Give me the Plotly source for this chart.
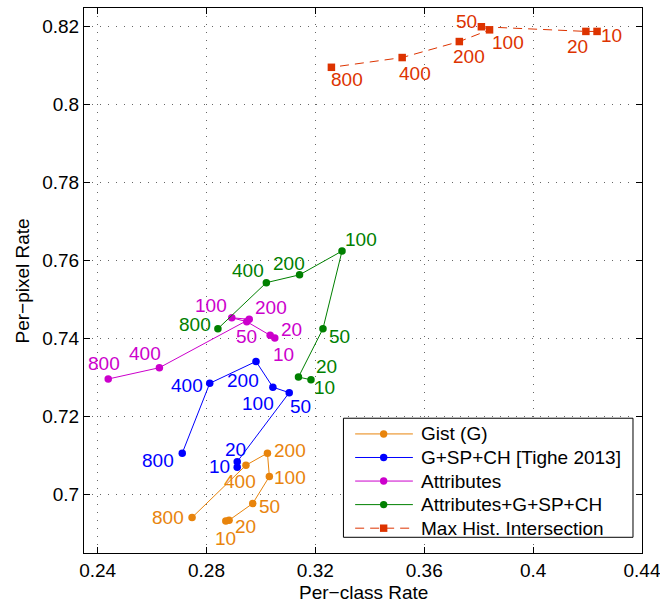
import plotly.graph_objects as go

# ---- data ----
labels = ["10", "20", "50", "100", "200", "400", "800"]

gist_x = [0.2871, 0.2883, 0.2970, 0.3031, 0.3024, 0.2945, 0.2747]
gist_y = [0.6932, 0.6934, 0.6977, 0.7046, 0.7106, 0.7075, 0.6941]

tighe_x = [0.2913, 0.2913, 0.3104, 0.3044, 0.2982, 0.2812, 0.2711]
tighe_y = [0.7070, 0.7084, 0.7261, 0.7275, 0.7341, 0.7285, 0.7106]

attr_x = [0.3051, 0.3034, 0.2948, 0.2893, 0.2957, 0.2627, 0.2439]
attr_y = [0.7401, 0.7408, 0.7443, 0.7453, 0.7449, 0.7325, 0.7296]

comb_x = [0.3184, 0.3138, 0.3228, 0.3298, 0.3142, 0.3020, 0.2842]
comb_y = [0.7294, 0.7301, 0.7425, 0.7624, 0.7563, 0.7543, 0.7425]

mhi_x = [0.4235, 0.4194, 0.3810, 0.3840, 0.3729, 0.3519, 0.3259]
mhi_y = [0.8187, 0.8187, 0.8199, 0.8191, 0.8161, 0.8120, 0.8095]

x_ticks = [0.24, 0.28, 0.32, 0.36, 0.40, 0.44]
x_ticklabels = ["0.24", "0.28", "0.32", "0.36", "0.4", "0.44"]
y_ticks = [0.70, 0.72, 0.74, 0.76, 0.78, 0.80, 0.82]
y_ticklabels = ["0.7", "0.72", "0.74", "0.76", "0.78", "0.8", "0.82"]

# ---- styles / layout ----
FONT = "Liberation Sans, Arial, Helvetica, sans-serif"
W, H = 660, 603
ML, MT, MR, MB = 84, 8.3, 18.3, 50
PW, PH = W - ML - MR, H - MT - MB


def px_x(px):
    # page pixel -> paper fraction
    return (px - ML) / PW


def px_y(py):
    return (H - MB - py) / PH


series = [
    dict(name="Gist (G)", x=gist_x, y=gist_y, color="#e8840c", symbol="circle", dash="solid",
         offs=[(0, 17), (16, 6), (17, 3), (21, 1), (23, -3), (-6, 16), (-24, 0)]),
    dict(name="G+SP+CH [Tighe 2013]", x=tighe_x, y=tighe_y, color="#0000ff", symbol="circle", dash="solid",
         offs=[(-18, -1), (-2, -12), (11, 14), (-15, 16), (-13, 19), (-23, 2), (-24, 7)]),
    dict(name="Attributes", x=attr_x, y=attr_y, color="#cc00cc", symbol="circle", dash="solid",
         offs=[(9, 16), (21, -6), (0, 15), (-21, -12), (22, -12), (-14, -14), (-4, -16)]),
    dict(name="Attributes+G+SP+CH", x=comb_x, y=comb_y, color="#008000", symbol="circle", dash="solid",
         offs=[(14, 8), (28, -11), (17, 8), (19, -12), (-11, -11), (-18, -12), (-23, -4)]),
    dict(name="Max Hist. Intersection", x=mhi_x, y=mhi_y, color="#dd3300", symbol="square", dash="9px,6px",
         offs=[(14, 4), (-8, 15), (-15, -5), (18, 13), (10, 15), (13, 16), (16, 12)]),
]

fig = go.Figure()
annotations = []
shapes = []
for s in series:
    fig.add_trace(go.Scatter(
        x=s["x"], y=s["y"], mode="lines+markers", name=s["name"], showlegend=False,
        line=dict(color=s["color"], width=1, dash=s["dash"]),
        marker=dict(color=s["color"], size=7.5, symbol=s["symbol"]),
    ))
    for xv, yv, lab, (dx, dy) in zip(s["x"], s["y"], labels, s["offs"]):
        annotations.append(dict(
            x=xv, y=yv, xref="x", yref="y", text=lab, showarrow=False,
            xshift=dx, yshift=-dy, xanchor="center", yanchor="middle",
            font=dict(family=FONT, size=19, color=s["color"]),
        ))

# ---- legend box (drawn in paper coordinates) ----
LEG_L, LEG_R, LEG_T, LEG_B = 343.3, 632.7, 418.3, 537.3
row_y0, row_dy = 434.0, 23.55
line_x0, line_x1, mark_x, text_x = 355.0, 412.7, 383.5, 419.0

shapes.append(dict(type="rect", xref="paper", yref="paper",
                   x0=px_x(LEG_L), x1=px_x(LEG_R), y0=px_y(LEG_B), y1=px_y(LEG_T),
                   line=dict(color="black", width=1), fillcolor="white", layer="above"))
for i, s in enumerate(series):
    ry = row_y0 + i * row_dy
    shapes.append(dict(type="line", xref="paper", yref="paper",
                       x0=px_x(line_x0), x1=px_x(line_x1), y0=px_y(ry), y1=px_y(ry),
                       line=dict(color=s["color"], width=1, dash=s["dash"]),
                       layer="above"))
    shapes.append(dict(type="circle" if s["symbol"] == "circle" else "rect",
                       xref="paper", yref="paper", xsizemode="pixel", ysizemode="pixel",
                       xanchor=px_x(mark_x), yanchor=px_y(ry),
                       x0=-3.7, x1=3.7, y0=-3.7, y1=3.7,
                       line=dict(color=s["color"], width=0), fillcolor=s["color"], layer="above"))
    annotations.append(dict(x=px_x(text_x), y=px_y(ry), xref="paper", yref="paper",
                            text=s["name"], showarrow=False, xanchor="left", yanchor="middle",
                            font=dict(family=FONT, size=19, color="black")))

# ---- axis titles ----
annotations.append(dict(x=0.5, y=px_y(592), xref="paper", yref="paper", text="Per\u2212class Rate",
                        showarrow=False, xanchor="center", yanchor="middle",
                        font=dict(family=FONT, size=19, color="black")))
annotations.append(dict(x=px_x(23), y=0.5, xref="paper", yref="paper", text="Per\u2212pixel Rate",
                        showarrow=False, xanchor="center", yanchor="middle", textangle=-90,
                        font=dict(family=FONT, size=19, color="black")))

axis_common = dict(
    showline=True, linecolor="black", linewidth=1, mirror="ticks",
    ticks="inside", ticklen=6, tickcolor="black", automargin=False,
    ticklabeloverflow="allow",
    showgrid=True, gridcolor="#666666", gridwidth=1, griddash="1px,7px",
    zeroline=False, tickfont=dict(family=FONT, size=19, color="black"),
)

fig.update_layout(
    width=W, height=H,
    margin=dict(l=ML, r=MR, t=MT, b=MB, autoexpand=False),
    paper_bgcolor="white", plot_bgcolor="white",
    font=dict(family=FONT, size=19, color="black"),
    annotations=annotations,
    shapes=shapes,
    showlegend=False,
    xaxis=dict(range=[0.235, 0.44002], tickvals=x_ticks, ticktext=x_ticklabels, **axis_common),
    yaxis=dict(range=[0.685, 0.8247], tickvals=y_ticks, ticktext=y_ticklabels, **axis_common),
)

fig.write_html(
    "out.html", default_width=W, default_height=H,
    config={"displayModeBar": False},
    post_script="document.body.style.margin='0';document.body.style.overflow='hidden';",
)
